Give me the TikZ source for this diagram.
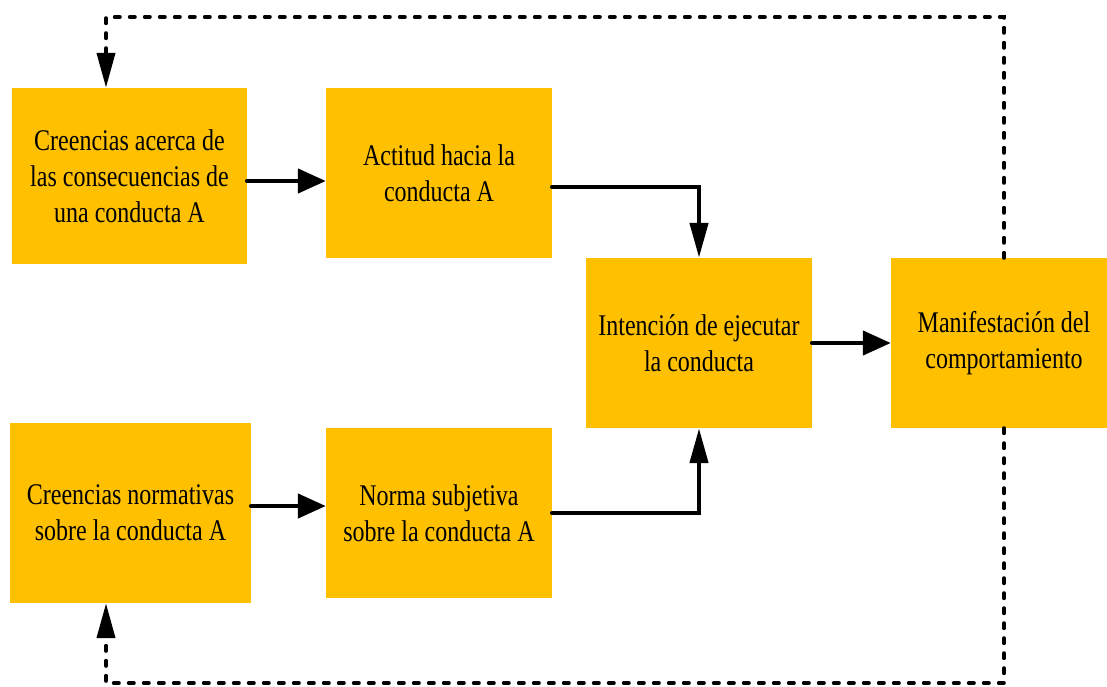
\documentclass[tikz,border=0pt]{standalone}
\usepackage{fontspec}
\newfontfamily\boxfont[FakeStretch=0.8]{Liberation Serif}
\usetikzlibrary{arrows.meta}
\definecolor{boxgold}{RGB}{255,192,0}

\begin{document}
\begin{tikzpicture}[x=1pt, y=-1pt, ->, >={Triangle[length=35pt, width=18pt]}]
    \tikzstyle{block} = [fill=boxgold, text centered, align=center, inner sep=0pt, minimum width=226pt, minimum height=170pt, font=\boxfont\fontsize{30}{36}\selectfont]
    \tikzstyle{solidline} = [line width=4.5pt, line cap=round]
    \tikzstyle{sidelink} = [-{Triangle[length=28pt, width=24pt]}]
    \tikzstyle{feedback} = [line width=4pt, line cap=round, dash pattern=on 5pt off 10pt]
    \useasboundingbox (0,0) rectangle (1107,686);
    \node [block, minimum width=235pt, minimum height=176pt] at (129.5,176) (creencias) {Creencias acerca de\\las consecuencias de\\una conducta A};
    \node [block] at (439,173) (actitud) {Actitud hacia la\\conducta A};
    \node [block] at (699,343) (intencion) {Intención de ejecutar\\la conducta};
    \node [block] at (1004,343) (manif) {Manifestación del\\comportamiento};
    \node [block, minimum width=241pt, minimum height=180pt] at (130.5,513) (normativas) {Creencias normativas\\sobre la conducta A};
    \node [block] at (439,513) (norma) {Norma subjetiva\\sobre la conducta A};
    \draw [solidline, sidelink] ([yshift=-5pt]creencias.east) -- ([yshift=-5pt]creencias.east -| actitud.west);
    \draw [solidline] ([yshift=-14pt]actitud.east) -| (intencion.north);
    \draw [solidline] (norma.east) -| (intencion.south);
    \draw [solidline, sidelink] (intencion.east) -- (manif.west);
    \draw [solidline, sidelink] ([yshift=7pt]normativas.east) -- ([yshift=7pt]normativas.east -| norma.west);
    % lazos de retroalimentacion
    \coordinate (topright) at (1004,17);
    \coordinate (topleft) at (106,17);
    \coordinate (botright) at (1004,683);
    \coordinate (botleft) at (106,683);
    \draw [feedback] (manif.north) -- (topright) -- (topleft) -- (topleft |- creencias.north);
    \draw [feedback] (manif.south) -- (botright) -- (botleft) -- (botleft |- normativas.south);
\end{tikzpicture}
\end{document}
